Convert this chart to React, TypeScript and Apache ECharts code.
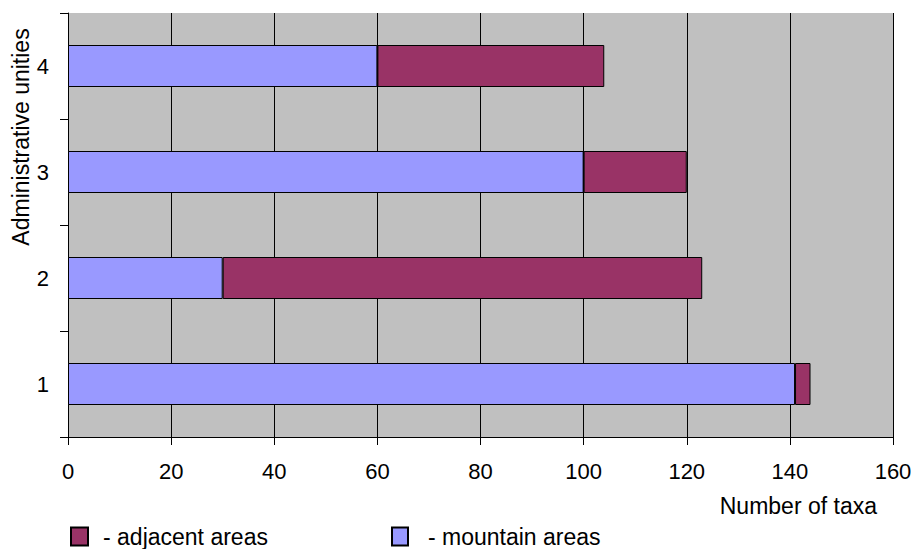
import React, { useEffect, useRef } from "react";
import * as echarts from "echarts";

const categories = ["1", "2", "3", "4"];
const mountainAreas = [141, 30, 100, 60];
const adjacentAreas = [3, 93, 20, 44];
const xTicks = { min: 0, max: 160, interval: 20 };

const FONT = "'Liberation Sans', Arial, sans-serif";

export default function App() {
  const ref = useRef<HTMLDivElement>(null);
  useEffect(() => {
    if (!ref.current) return;
    const chart = echarts.init(ref.current, null, { renderer: "svg" });
    chart.setOption({
      animation: false,
      textStyle: { fontFamily: FONT },
      grid: {
        left: 68,
        right: 23,
        top: 13,
        bottom: 112,
        show: true,
        backgroundColor: "#C0C0C0",
        borderWidth: 0,
      },
      xAxis: {
        type: "value",
        min: xTicks.min,
        max: xTicks.max,
        interval: xTicks.interval,
        axisLine: { show: true, lineStyle: { color: "#000", width: 1 } },
        axisTick: { show: true, length: 8, lineStyle: { color: "#000" } },
        axisLabel: { fontSize: 22, color: "#000", margin: 23, fontFamily: FONT },
        splitLine: { show: true, lineStyle: { color: "#000", width: 1 } },
      },
      yAxis: {
        type: "category",
        data: categories,
        axisLine: { show: true, lineStyle: { color: "#000", width: 1 } },
        axisTick: { show: true, length: 8, lineStyle: { color: "#000" } },
        axisLabel: { fontSize: 22, color: "#000", margin: 19, fontFamily: FONT },
        splitLine: { show: false },
      },
      legend: [
        {
          data: ["adjacent areas"],
          left: 70,
          top: 525,
          padding: 0,
          itemWidth: 17,
          itemHeight: 18,
          icon: "rect",
          formatter: (n: string) => "- " + n,
          textStyle: { fontSize: 23, color: "#000", fontFamily: FONT, padding: [0, 0, 0, 10] },
        },
        {
          data: ["mountain areas"],
          left: 391,
          top: 525,
          padding: 0,
          itemWidth: 16,
          itemHeight: 18,
          icon: "rect",
          formatter: (n: string) => "- " + n,
          textStyle: { fontSize: 23, color: "#000", fontFamily: FONT, padding: [0, 0, 0, 15] },
        },
      ],
      graphic: [
        {
          type: "text",
          x: 877,
          y: 506,
          style: {
            text: "Number of taxa",
            fontSize: 23,
            fontFamily: FONT,
            fill: "#000",
            align: "right",
            verticalAlign: "middle",
          },
        },
        {
          type: "text",
          x: 21,
          y: 137,
          rotation: Math.PI / 2,
          style: {
            text: "Administrative unities",
            fontSize: 23,
            fontFamily: FONT,
            fill: "#000",
            align: "center",
            verticalAlign: "middle",
          },
        },
      ],
      series: [
        {
          name: "mountain areas",
          type: "bar",
          stack: "total",
          barWidth: 42,
          data: mountainAreas,
          itemStyle: { color: "#9999FF", borderColor: "#000", borderWidth: 1 },
        },
        {
          name: "adjacent areas",
          type: "bar",
          stack: "total",
          barWidth: 42,
          data: adjacentAreas,
          itemStyle: { color: "#993366", borderColor: "#000", borderWidth: 1 },
        },
      ],
    });
    return () => chart.dispose();
  }, []);
  return <div ref={ref} style={{ width: 916, height: 549, position: "absolute", left: 0, top: 0 }} />;
}
